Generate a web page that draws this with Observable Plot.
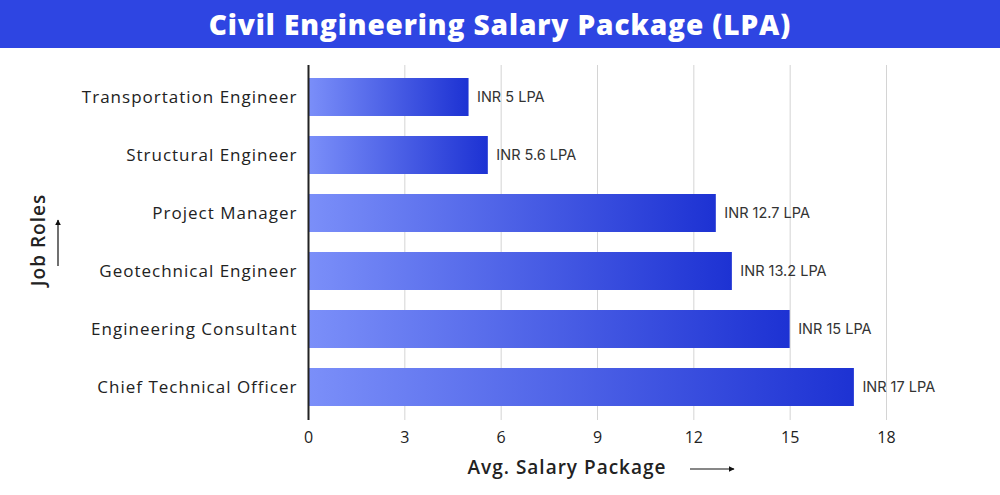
<!DOCTYPE html>
<html>
<head>
<meta charset="utf-8">
<script src="https://cdn.jsdelivr.net/npm/d3@7"></script>
<script src="https://cdn.jsdelivr.net/npm/@observablehq/plot@0.6"></script>
<style>
  html, body { margin: 0; padding: 0; background: #fff; }
  body { width: 1000px; height: 495px; overflow: hidden; font-family: "Open Sans", sans-serif; }
  #title { height: 48px; background: #2e45e2; color: #fff; font-family: "Open Sans", sans-serif; font-weight: 800; font-size: 28px; line-height: 48px; text-align: center; letter-spacing: 0.9px; }
  #chart { position: relative; }
</style>
</head>
<body>
<div id="title">Civil Engineering Salary Package (LPA)</div>
<div id="chart"></div>
<script>
const roles = ["Transportation Engineer", "Structural Engineer", "Project Manager", "Geotechnical Engineer", "Engineering Consultant", "Chief Technical Officer"];
const salaries = [5, 5.6, 12.7, 13.2, 15, 17];
const valueLabels = ["INR 5 LPA", "INR 5.6 LPA", "INR 12.7 LPA", "INR 13.2 LPA", "INR 15 LPA", "INR 17 LPA"];
const xTicks = [0, 3, 6, 9, 12, 15, 18];

const data = roles.map((r, i) => ({role: r, value: salaries[i], label: valueLabels[i]}));

const plot = Plot.plot({
  width: 1000,
  height: 447,
  marginLeft: 308,
  marginRight: 114,
  marginTop: 17,
  marginBottom: 75,
  style: {fontFamily: "Open Sans, sans-serif", color: "#222"},
  x: {domain: [0, 18], ticks: xTicks, label: null},
  y: {domain: roles, paddingInner: 0.337, paddingOuter: 0.187, align: 0.5, label: null},
  marks: [
    () => {
      const svg = d3.create("svg:defs");
      const g = svg.append("linearGradient").attr("id", "barGrad").attr("x1", "0").attr("x2", "1").attr("y1", "0").attr("y2", "0");
      g.append("stop").attr("offset", "0%").attr("stop-color", "#7b8ff9");
      g.append("stop").attr("offset", "100%").attr("stop-color", "#1d32d3");
      return svg.node();
    },
    Plot.gridX(xTicks, {stroke: "#d4d4d4", strokeOpacity: 1, strokeWidth: 1}),
    Plot.barX(data, {x: "value", y: "role", fill: "url(#barGrad)"}),
    Plot.text(data, {x: "value", y: "role", text: "label", textAnchor: "start", dx: 8, fontSize: 14.5, fill: "#333", fontFamily: "Inter, sans-serif"}),
    Plot.axisX(xTicks, {tickSize: 0, tickPadding: 11, fontSize: 16, fill: "#222", label: null, fontFamily: "Open Sans, sans-serif"}),
    Plot.axisY({tickSize: 0, tickPadding: 11, fontSize: 17, fill: "#222", label: null, style: "letter-spacing: 1px"}),
    Plot.ruleX([0], {stroke: "#222", strokeWidth: 2})
  ]
});

document.getElementById("chart").appendChild(plot);

// letter spacing for y tick labels (wider, Poppins-like)
d3.select(plot).selectAll("[aria-label='y-axis tick label'] text").attr("letter-spacing", "1px");

// decorative axis titles with arrows
const svg = d3.select(plot);
const deco = svg.append("g").attr("font-family", "Open Sans, sans-serif").attr("fill", "#222");
svg.append("defs").html('<marker id="ah" viewBox="0 0 10 10" refX="9" refY="5" markerWidth="5" markerHeight="5" orient="auto"><path d="M0,0L10,5L0,10z" fill="#111"/></marker>');
deco.append("text").attr("x", 567).attr("y", 419).attr("text-anchor", "middle").attr("dy", "0.35em").attr("font-size", 19).attr("font-weight", 600).attr("letter-spacing", "1px").text("Avg. Salary Package");
deco.append("line").attr("x1", 690).attr("x2", 734).attr("y1", 421).attr("y2", 421).attr("stroke", "#111").attr("stroke-width", 1.2).attr("marker-end", "url(#ah)");
deco.append("text").attr("transform", "translate(38,192) rotate(-90)").attr("text-anchor", "middle").attr("dy", "0.35em").attr("font-size", 19).attr("font-weight", 600).attr("letter-spacing", "1px").text("Job Roles");
deco.append("line").attr("x1", 58).attr("x2", 58).attr("y1", 218).attr("y2", 172).attr("stroke", "#111").attr("stroke-width", 1.2).attr("marker-end", "url(#ah)");
</script>
</body>
</html>
